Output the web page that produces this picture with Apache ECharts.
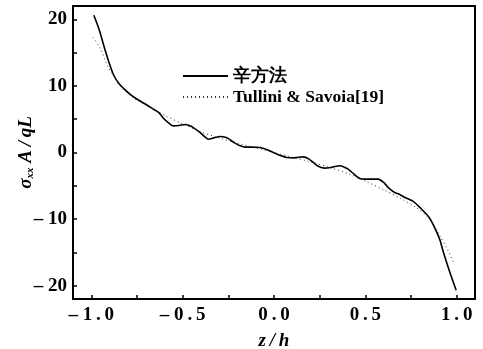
<!DOCTYPE html>
<html><head><meta charset="utf-8">
<script src="https://cdn.jsdelivr.net/npm/echarts@6/dist/echarts.min.js"></script>
<style>html,body{margin:0;padding:0;background:#fff}#c{width:483px;height:349px}</style>
</head><body><div id="c"></div>
<script>
// 辛方法 (solid) : [z/h, sigma_xx A/qL]
var symplecticX = [-0.986,-0.955,-0.932,-0.904,-0.877,-0.85,-0.822,-0.785,-0.749,-0.70,-0.659,-0.63,-0.604,-0.575,-0.55,-0.52,-0.486,-0.46,-0.44,-0.404,-0.38,-0.359,-0.33,-0.295,-0.258,-0.235,-0.213,-0.185,-0.158,-0.12,-0.076,-0.04,-0.004,0.035,0.069,0.11,0.16,0.19,0.215,0.245,0.278,0.32,0.36,0.385,0.406,0.44,0.469,0.50,0.54,0.57,0.60,0.63,0.66,0.688,0.72,0.76,0.80,0.85,0.888,0.91,0.925,0.96,0.997];
var symplecticY = [20.6,18.3,16.1,13.6,11.6,10.4,9.6,8.7,8.0,7.2,6.5,6.0,5.1,4.4,4.0,4.05,4.2,4.0,3.7,3.0,2.4,2.0,2.2,2.4,2.2,1.8,1.4,1.0,0.8,0.8,0.75,0.45,0.0,-0.45,-0.75,-0.8,-0.65,-0.95,-1.5,-2.1,-2.35,-2.2,-2.0,-2.2,-2.5,-3.3,-3.9,-4.0,-4.0,-4.0,-4.5,-5.4,-6.0,-6.3,-6.8,-7.3,-8.3,-9.8,-11.8,-13.3,-14.8,-17.8,-20.7];
// Tullini & Savoia[19] (dotted)
var tulliniX = [-0.99,-0.95,-0.913,-0.88,-0.84,-0.78,-0.7,-0.6,-0.5,-0.4,-0.3,-0.2,-0.1,0,0.1,0.2,0.3,0.4,0.5,0.6,0.7,0.78,0.83,0.87,0.91,0.95,0.988];
var tulliniY = [17.3,15.6,13.1,11.6,9.9,8.4,7.1,5.6,4.3,3.1,2.2,1.4,0.7,0,-0.7,-1.4,-2.2,-3.1,-4.3,-5.6,-7.0,-8.3,-9.4,-10.7,-12.6,-14.6,-16.8];
var xLabels = [-1.0,-0.5,0.0,0.5,1.0];
var yLabels = [-20,-10,0,10,20];
var legendNames = ['辛方法','Tullini & Savoia[19]'];

function zip(a,b){return a.map(function(v,i){return [v,b[i]];});}
var xTicks=[],yTicks=[];
for(var i=-4;i<=4;i++){xTicks.push(i*0.25);yTicks.push(i*5);}
var serif='"Liberation Serif","DejaVu Serif",serif';
function fmt(v){var s=Math.abs(v).toFixed(1).split('').join('\u2009');return v<-1e-9?'– '+s:s;}
function fmtY(v){return v<0?'– '+Math.abs(v):String(v);}

var chart=echarts.init(document.getElementById('c'));
chart.setOption({
  animation:false,
  backgroundColor:'#fff',
  grid:{left:73,right:8,top:6,bottom:50,show:false,containLabel:false,outerBoundsMode:'none'},
  legend:{
    orient:'vertical',left:182,top:66,padding:0,itemWidth:45,itemHeight:14,itemGap:1,
    itemStyle:{opacity:0},
    data:legendNames,
    textStyle:{fontFamily:serif,fontSize:17.5,lineHeight:20,fontWeight:'bold',color:'#000'}
  },
  xAxis:[{
    type:'value',min:-1.1,max:1.1,
    axisLine:{onZero:false,lineStyle:{color:'#000',width:2}},
    splitLine:{show:false},
    axisTick:{inside:true,length:4,customValues:xTicks,lineStyle:{color:'#000',width:1.5}},
    axisLabel:{customValues:xLabels,formatter:fmt,margin:7,color:'#000',fontFamily:serif,fontSize:19,fontWeight:'bold'},
    name:'z\u2009/\u2009h',nameLocation:'middle',nameGap:33,nameMoveOverlap:false,
    nameTextStyle:{fontFamily:serif,fontSize:19,fontStyle:'italic',fontWeight:'bold',color:'#000'}
  },{
    type:'value',position:'top',min:-1.1,max:1.1,
    axisLine:{show:true,onZero:false,lineStyle:{color:'#000',width:2}},
    axisTick:{show:false},axisLabel:{show:false},splitLine:{show:false}
  }],
  yAxis:[{
    type:'value',min:-22,max:22,
    axisLine:{show:true,onZero:false,lineStyle:{color:'#000',width:2}},
    splitLine:{show:false},
    axisTick:{inside:true,length:4,customValues:yTicks,lineStyle:{color:'#000',width:1.5}},
    axisLabel:{customValues:yLabels,formatter:fmtY,margin:6,color:'#000',fontFamily:serif,fontSize:19,fontWeight:'bold'},
    name:'{i|σ}{s|xx}{i| A\u2009/\u2009qL}',nameLocation:'middle',nameGap:37,nameRotate:90,nameMoveOverlap:false,
    nameTextStyle:{rich:{
      i:{fontFamily:serif,fontSize:19,fontStyle:'italic',fontWeight:'bold',color:'#000'},
      s:{fontFamily:serif,fontSize:11,fontStyle:'italic',fontWeight:'bold',color:'#000',verticalAlign:'bottom',padding:[7,0,0,0]}
    }}
  },{
    type:'value',position:'right',min:-22,max:22,
    axisLine:{show:true,onZero:false,lineStyle:{color:'#000',width:2}},
    axisTick:{show:false},axisLabel:{show:false},splitLine:{show:false}
  }],
  series:[{
    name:legendNames[0],type:'line',data:zip(symplecticX,symplecticY),
    smooth:0.3,symbol:'none',lineStyle:{color:'#000',width:1.6,type:'solid'},itemStyle:{color:'#000'}
  },{
    name:legendNames[1],type:'line',data:zip(tulliniX,tulliniY),
    smooth:0.3,symbol:'none',lineStyle:{color:'#333',width:1,type:[1,3]},itemStyle:{color:'#333'}
  }]
});
</script></body></html>
